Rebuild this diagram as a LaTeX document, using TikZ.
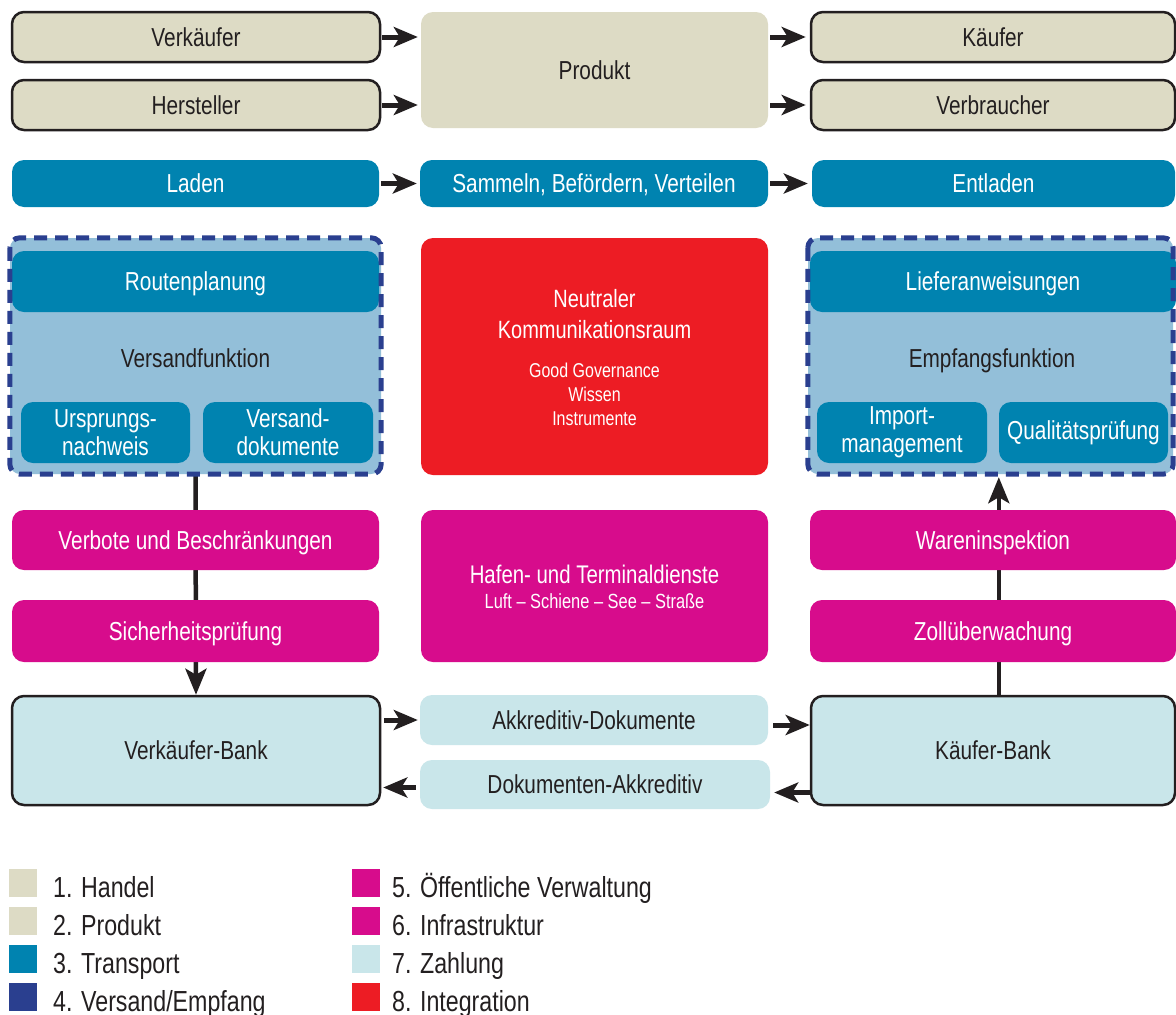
\documentclass[tikz,border=0pt]{standalone}
\usepackage{fontspec}
\setmainfont{Liberation Sans}[FakeStretch=0.8]
\usetikzlibrary{arrows.meta,backgrounds}
\definecolor{cBeige}{HTML}{DDDBC5}
\definecolor{cTrans}{HTML}{0083B0}
\definecolor{cLBlue}{HTML}{93BFD9}
\definecolor{cDBlue}{HTML}{2A3F8F}
\definecolor{cRed}{HTML}{ED1C24}
\definecolor{cMag}{HTML}{D70C8C}
\definecolor{cPay}{HTML}{C9E6EA}
\definecolor{cInk}{HTML}{231F20}
\begin{document}
\begin{tikzpicture}[x=1pt,y=-1pt,
  base/.style={rounded corners=12pt, inner sep=0pt, align=center, font=\fontsize{26}{28}\selectfont},
  one/.style={text height=18.5pt, text depth=0pt},
  handel/.style={base, one, fill=cBeige, draw=cInk, line width=2.5pt, text=cInk},
  prodbox/.style={base, one, fill=cBeige, text=cInk},
  trans/.style={base, one, fill=cTrans, text=white},
  subbox/.style={base, fill=cTrans, text=white},
  amt/.style={base, one, fill=cMag, text=white},
  bigbox/.style={base, fill=#1},
  paybox/.style={base, one, fill=cPay, text=cInk},
  bank/.style={paybox, draw=cInk, line width=2.5pt},
  dashfill/.style={rounded corners=10pt, fill=cLBlue, inner sep=0pt},
  dashline/.style={rounded corners=10pt, draw=cDBlue, line width=5pt, dash pattern=on 13pt off 8pt},
  lbl/.style={anchor=base, inner sep=0pt, font=\fontsize{26}{28}\selectfont},
  small/.style={anchor=base, inner sep=0pt, font=\fontsize{20}{24}\selectfont, text=white},
  arr/.style={draw=cInk, line width=5pt, -{Stealth[length=24pt,width=20pt,inset=6pt]}},
  vline/.style={draw=cInk, line width=4.5pt, -{Stealth[length=26pt,width=21pt,inset=6pt]}},
  legsq/.style={minimum width=28pt, minimum height=28pt, inner sep=0pt, fill=#1, anchor=north west},
  legtx/.style={anchor=base west, inner sep=0pt, text=cInk, font=\fontsize{29}{32}\selectfont}
]
\useasboundingbox (0,0) rectangle (1176,1015);

% row 1: trade and product
\node[handel, minimum width=368, minimum height=50] (verk) at (196,37) {Verkäufer};
\node[handel, minimum width=368, minimum height=50] (herst) at (196,105) {Hersteller};
\node[prodbox, minimum width=347, minimum height=116] (prod) at (594.5,70) {Produkt};
\node[handel, minimum width=364, minimum height=50] (kaeuf) at (993,37) {Käufer};
\node[handel, minimum width=364, minimum height=50] (verbr) at (993,105) {Verbraucher};

% transport row
\node[trans, minimum width=367, minimum height=47] (laden) at (195.5,183.5) {Laden};
\node[trans, minimum width=348, minimum height=47] (samm) at (594,183.5) {Sammeln, Befördern, Verteilen};
\node[trans, minimum width=363, minimum height=47] (entl) at (993.5,183.5) {Entladen};

% shipping function
\node[dashfill, minimum width=371, minimum height=236] (dashL) at (195.5,356) {};
\node[trans, minimum width=367, minimum height=61] (rout) at (195.5,281.5) {Routenplanung};
\node[lbl, text=cInk] (versf) at (195.5,367) {Versandfunktion};
\node[subbox, minimum width=169, minimum height=61] (urs) at (105.5,432.5) {Ursprungs-\\nachweis};
\node[subbox, minimum width=170, minimum height=61] (vdok) at (288,432.5) {Versand-\\dokumente};
\draw[dashline] (dashL.north west) rectangle (dashL.south east);

% neutral space
\node[bigbox=cRed, minimum width=347, minimum height=237] (neutral) at (594.5,356.5) {};
\node[lbl, text=white, font=\fontsize{25}{28}\selectfont] (n1) at (594.5,307) {Neutraler};
\node[lbl, text=white, font=\fontsize{25}{28}\selectfont] (n2) at (594.5,338) {Kommunikationsraum};
\node[small] (n3) at (594.5,377) {Good Governance};
\node[small] (n4) at (594.5,401) {Wissen};
\node[small] (n5) at (594.5,425) {Instrumente};

% receiving function
\node[dashfill, minimum width=365, minimum height=236] (dashR) at (990.5,356) {};
\node[trans, minimum width=366, minimum height=61] (lief) at (993,281.5) {Lieferanweisungen};
\node[lbl, text=cInk] (empf) at (992,367) {Empfangsfunktion};
\node[subbox, minimum width=170, minimum height=61] (imp) at (902,432.5) {Import-\\management};
\node[subbox, minimum width=169, minimum height=61] (qual) at (1083.5,432.5) {Qualitätsprüfung};
\draw[dashline] (dashR.north west) rectangle (dashR.south east);

% administration and infrastructure
\node[amt, minimum width=367, minimum height=60] (verb) at (195.5,540) {Verbote und Beschränkungen};
\node[amt, minimum width=367, minimum height=62] (sich) at (195.5,631) {Sicherheitsprüfung};
\node[bigbox=cMag, minimum width=347, minimum height=152] (hafen) at (594.5,586) {};
\node[lbl, text=white, font=\fontsize{25.5}{28}\selectfont] (h1) at (594.5,583) {Hafen- und Terminaldienste};
\node[small, font=\fontsize{20.5}{24}\selectfont] (h2) at (594.5,608) {Luft – Schiene – See – Straße};
\node[amt, minimum width=366, minimum height=60] (waren) at (993,540) {Wareninspektion};
\node[amt, minimum width=366, minimum height=62] (zoll) at (993,631) {Zollüberwachung};

% payment
\node[bank, minimum width=368, minimum height=109] (vbank) at (196,750.5) {Verkäufer-Bank};
\node[paybox, minimum width=348, minimum height=50] (akk) at (594,720) {Akkreditiv-Dokumente};
\node[paybox, minimum width=350, minimum height=49] (dok) at (595,784.5) {Dokumenten-Akkreditiv};
\node[bank, minimum width=364, minimum height=109] (kbank) at (993,750.5) {Käufer-Bank};

% white page and vertical connectors behind boxes
\begin{scope}[on background layer]
\fill[white] (0,0) rectangle (1176,1015);
\draw[vline] ([yshift=-2pt]dashL.south) -- (vbank.north);
\draw[vline] (kbank.north -| qual.west) -- ([yshift=-3pt]dashR.south -| qual.west);
\end{scope}

% horizontal arrows
\draw[arr] ([xshift=1pt]verk.east) -- ([xshift=-3pt]verk.east -| prod.west);
\draw[arr] ([xshift=1pt]herst.east) -- ([xshift=-3pt]herst.east -| prod.west);
\draw[arr] ([xshift=2pt]kaeuf.west -| prod.east) -- ([xshift=-4pt]kaeuf.west);
\draw[arr] ([xshift=2pt]verbr.west -| prod.east) -- ([xshift=-4pt]verbr.west);
\draw[arr] ([xshift=2pt]laden.east) -- ([xshift=-3pt]laden.east -| samm.west);
\draw[arr] ([xshift=2pt]samm.east) -- ([xshift=-4pt]samm.east -| entl.west);
\draw[arr] ([xshift=3pt]akk.west -| vbank.east) -- ([xshift=-2pt]akk.west);
\draw[arr] ([xshift=5pt,yshift=-5pt]akk.east) -- ([yshift=-5pt]akk.east -| kbank.west);
\draw[arr] ([yshift=-8pt]dok.east -| kbank.west) -- ([xshift=4pt,yshift=-8pt]dok.east);
\draw[arr] ([xshift=-4pt,yshift=-3pt]dok.west) -- ([xshift=2pt,yshift=-3pt]dok.west -| vbank.east);

% legend
\node[legsq=cBeige] (q1) at (9,869) {};
\node[legsq=cBeige] (q2) at (9,907) {};
\node[legsq=cTrans] (q3) at (9,945) {};
\node[legsq=cDBlue] (q4) at (9,983) {};
\node[legtx] (t1) at (53,897) {1. Handel};
\node[legtx] (t2) at (53,935) {2. Produkt};
\node[legtx] (t3) at (53,973) {3. Transport};
\node[legtx] (t4) at (53,1011) {4. Versand/Empfang};
\node[legsq=cMag] (q5) at (352,869) {};
\node[legsq=cMag] (q6) at (352,907) {};
\node[legsq=cPay] (q7) at (352,945) {};
\node[legsq=cRed] (q8) at (352,983) {};
\node[legtx] (t5) at (392,897) {5. Öffentliche Verwaltung};
\node[legtx] (t6) at (392,935) {6. Infrastruktur};
\node[legtx] (t7) at (392,973) {7. Zahlung};
\node[legtx] (t8) at (392,1011) {8. Integration};
\end{tikzpicture}
\end{document}
